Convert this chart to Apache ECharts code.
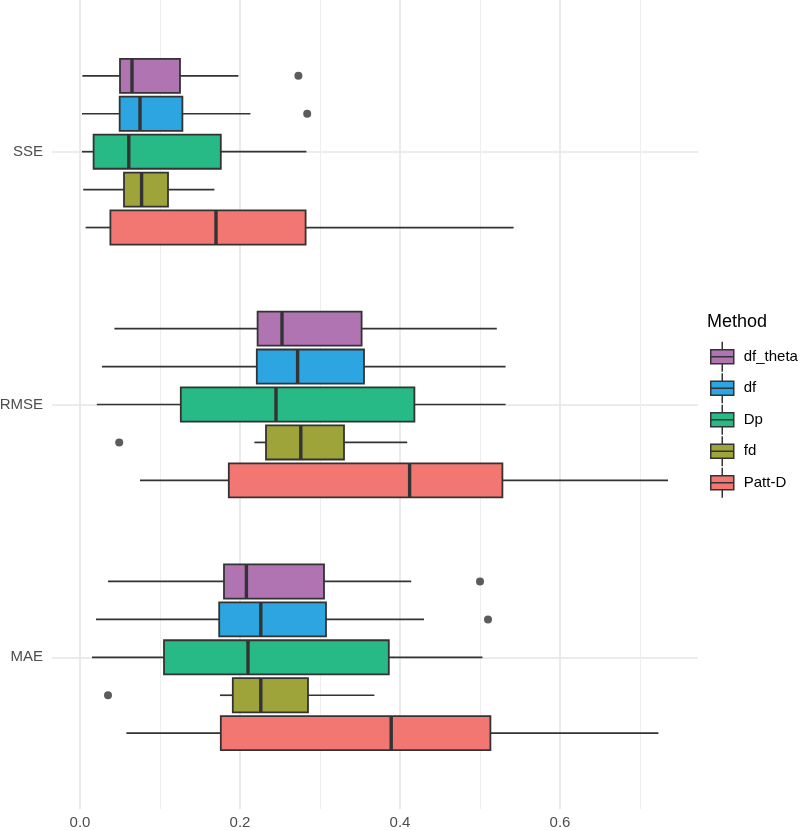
<!DOCTYPE html>
<html>
<head>
<meta charset="utf-8">
<script src="https://cdn.jsdelivr.net/npm/echarts@6/dist/echarts.min.js"></script>
<style>
  html, body { margin: 0; padding: 0; background: #fff; }
  #chart { width: 800px; height: 830px; }
</style>
</head>
<body>
<div id="chart"></div>
<script>
// categories top to bottom, methods in dodge order (top to bottom)
const categories = ["SSE", "RMSE", "MAE"];
const methods = ["df_theta", "df", "Dp", "fd", "Patt-D"];
const colors = ["#B174B3", "#2DA5E0", "#27B986", "#9EA43A", "#F27772"];

// [min, q1, median, q3, max] per category (SSE, RMSE, MAE)
const dfTheta = [
  [0.003, 0.050, 0.065, 0.125, 0.198],
  [0.043, 0.222, 0.2525, 0.352, 0.521],
  [0.035, 0.180, 0.208, 0.305, 0.414]
];
const dfStats = [
  [0.0025, 0.0496, 0.075, 0.128, 0.213],
  [0.0275, 0.221, 0.272, 0.355, 0.532],
  [0.020, 0.174, 0.226, 0.3075, 0.430]
];
const dpStats = [
  [0.0025, 0.017, 0.061, 0.176, 0.283],
  [0.021, 0.126, 0.245, 0.418, 0.532],
  [0.015, 0.105, 0.210, 0.386, 0.503]
];
const fdStats = [
  [0.004, 0.055, 0.077, 0.110, 0.168],
  [0.218, 0.2325, 0.276, 0.330, 0.409],
  [0.175, 0.191, 0.226, 0.285, 0.368]
];
const pattDStats = [
  [0.007, 0.038, 0.170, 0.282, 0.542],
  [0.075, 0.186, 0.412, 0.528, 0.735],
  [0.058, 0.176, 0.389, 0.513, 0.723]
];

// outliers: [category index, value]
const dfThetaOut = [[0, 0.273], [2, 0.500]];
const dfOut = [[0, 0.284], [2, 0.510]];
const dpOut = [];
const fdOut = [[1, 0.049], [2, 0.035]];
const pattDOut = [];

const allStats = [dfTheta, dfStats, dpStats, fdStats, pattDStats];
const allOut = [dfThetaOut, dfOut, dpOut, fdOut, pattDOut];

const dodge = 0.15;
const boxH = 0.135;
const yPos = (c, m) => c + 1 + (m - 2) * dodge;

const font = "Liberation Sans, Arial, Helvetica, sans-serif";

const renderBox = (params, api) => {
  const y = api.value(0);
  const pMin = api.coord([api.value(1), y]);
  const pQ1 = api.coord([api.value(2), y]);
  const pMed = api.coord([api.value(3), y]);
  const pQ3 = api.coord([api.value(4), y]);
  const pMax = api.coord([api.value(5), y]);
  const h = api.size([0, boxH])[1];
  const cy = pMed[1];
  const lineStyle = { stroke: "#333333", lineWidth: 1.7 };
  return {
    type: "group",
    children: [
      { type: "line", shape: { x1: pMin[0], y1: cy, x2: pQ1[0], y2: cy }, style: lineStyle },
      { type: "line", shape: { x1: pQ3[0], y1: cy, x2: pMax[0], y2: cy }, style: lineStyle },
      {
        type: "rect",
        shape: { x: pQ1[0], y: cy - h / 2, width: pQ3[0] - pQ1[0], height: h },
        style: { fill: api.visual("color"), stroke: "#333333", lineWidth: 1.8 }
      },
      { type: "line", shape: { x1: pMed[0], y1: cy - h / 2, x2: pMed[0], y2: cy + h / 2 }, style: { stroke: "#333333", lineWidth: 3.4 } }
    ]
  };
};

const series = [];
methods.forEach((name, m) => {
  series.push({
    name: name,
    type: "custom",
    renderItem: renderBox,
    itemStyle: { color: colors[m] },
    encode: { x: [1, 2, 3, 4, 5], y: 0 },
    data: allStats[m].map((s, c) => [yPos(c, m)].concat(s)),
    z: 3
  });
});
series.push({
  name: "outliers",
  type: "scatter",
  symbolSize: 8,
  itemStyle: { color: "#333333" },
  data: [].concat(...allOut.map((arr, m) => arr.map(o => [o[1], yPos(o[0], m)]))),
  z: 4
});

const chart = echarts.init(document.getElementById("chart"));
chart.setOption({
  animation: false,
  backgroundColor: "#ffffff",
  textStyle: { fontFamily: font },
  title: {
    text: "Method",
    left: 707,
    top: 313,
    padding: 0,
    textStyle: { fontSize: 18, fontWeight: "normal", color: "#000", fontFamily: font }
  },
  legend: {
    data: methods,
    orient: "vertical",
    left: 710,
    top: 341,
    padding: 0,
    itemWidth: 23,
    itemHeight: 30,
    itemGap: 0,
    selectedMode: false,
    icon: "path://M11.5,0 L11.5,8 M0,8 L23,8 L23,22 L0,22 Z M0,15 L23,15 M11.5,22 L11.5,30",
    itemStyle: { borderColor: "#333333", borderWidth: 1.5 },
    textStyle: { fontSize: 15, color: "#000", fontFamily: font, padding: [0, 0, 0, 5] }
  },
  grid: { left: 52, right: 102, top: 0, bottom: 21, outerBoundsMode: "none", containLabel: false },
  xAxis: [
    {
      type: "value",
      min: -0.035,
      max: 0.7725,
      axisLine: { show: false },
      axisTick: { show: false, customValues: [0, 0.2, 0.4, 0.6] },
      axisLabel: {
        customValues: [0, 0.2, 0.4, 0.6],
        formatter: v => v.toFixed(1),
        fontSize: 15, color: "#4D4D4D", margin: 6, fontFamily: font
      },
      splitLine: { show: true, lineStyle: { color: "#E6E6E6", width: 1.6 } }
    },
    {
      type: "value",
      min: -0.035,
      max: 0.7725,
      axisLine: { show: false },
      axisTick: { show: false, customValues: [0.1, 0.3, 0.5, 0.7] },
      axisLabel: { show: false, customValues: [0.1, 0.3, 0.5, 0.7] },
      splitLine: { show: true, lineStyle: { color: "#EEEEEE", width: 1 } }
    }
  ],
  yAxis: {
    type: "value",
    inverse: true,
    min: 0.4,
    max: 3.6,
    axisLine: { show: false },
    axisTick: { show: false, customValues: [1, 2, 3] },
    axisLabel: {
      customValues: [1, 2, 3],
      formatter: v => categories[Math.round(v) - 1],
      fontSize: 15, color: "#4D4D4D", margin: 9, fontFamily: font
    },
    splitLine: { show: true, lineStyle: { color: "#E6E6E6", width: 1.6 } }
  },
  series: series
});
</script>
</body>
</html>
